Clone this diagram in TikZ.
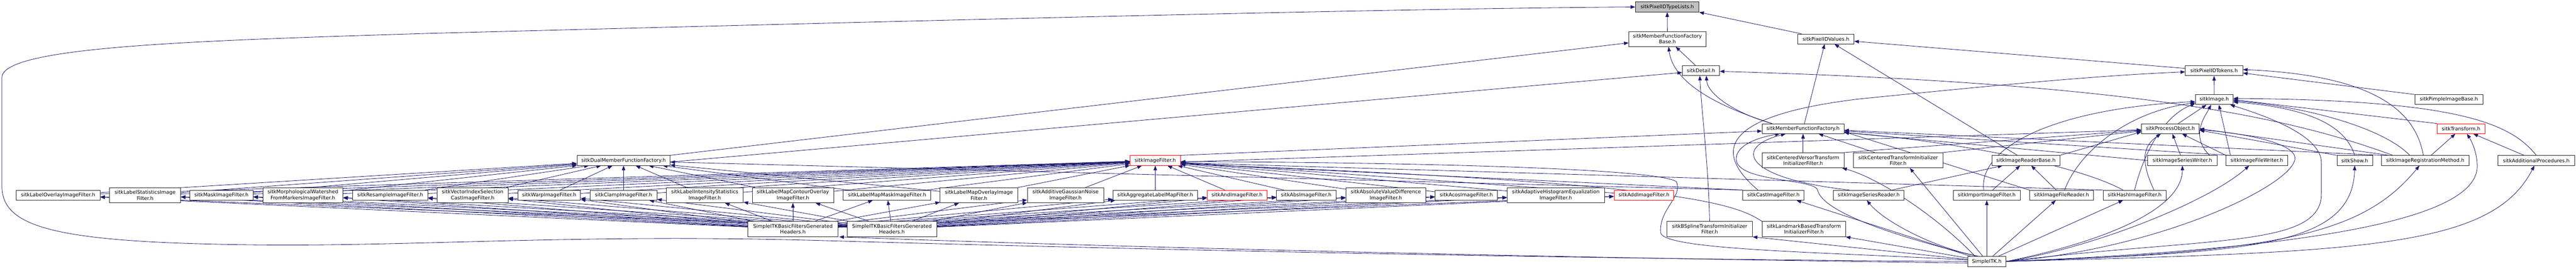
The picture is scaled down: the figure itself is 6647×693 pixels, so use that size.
\documentclass[tikz,border=0pt]{standalone}
\usepackage{fontspec}
\setmainfont{DejaVu Sans}
\usetikzlibrary{arrows.meta,backgrounds}
\definecolor{edgeblue}{HTML}{191970}
\definecolor{rootgrey}{HTML}{BFBFBF}
\begin{document}
\begin{tikzpicture}[x=1pt,y=-1pt,
  box/.style={draw=black!85, line width=1.1pt, fill=white, inner sep=0pt, align=center,
    font=\fontsize{12.9}{15}\selectfont},
  redbox/.style={box, draw=red},
  rootbox/.style={box, fill=rootgrey},
  sz/.style 2 args={minimum width=#1pt, minimum height=#2pt},
  edge/.style={draw=edgeblue, line width=1.1pt, -{Triangle[length=12pt,width=9pt]}},
]
\useasboundingbox (0,0) rectangle (6647,693);

% ---------- upper part ----------
\node[rootbox, sz={164}{26}] (typelists) at (4302,18) {sitkPixelIDTypeLists.h};
\node[box, sz={199}{39}] (mffbase) at (4302.5,100.5) {sitkMemberFunctionFactory\\Base.h};
\node[box, sz={145}{25.5}] (values) at (4711.5,100.5) {sitkPixelIDValues.h};
\node[box, sz={96}{25.5}] (detail) at (4389,182) {sitkDetail.h};
\node[box, sz={148}{25.5}] (tokens) at (5713,182.5) {sitkPixelIDTokens.h};
\node[box, sz={97}{25.5}] (image) at (5713.5,257) {sitkImage.h};
\node[box, sz={176}{25.5}] (pimple) at (6319,257) {sitkPimpleImageBase.h};
\node[box, sz={211}{25.5}] (mff) at (4652.5,332) {sitkMemberFunctionFactory.h};
\node[box, sz={149}{25.5}] (procobj) at (5600.5,332) {sitkProcessObject.h};
\node[redbox, sz={123}{25.5}] (transform) at (6350.5,332) {sitkTransform.h};

\node[box, sz={240}{25.5}] (dmff) at (1609,414) {sitkDualMemberFunctionFactory.h};
\node[redbox, sz={130}{25.5}] (ifilter) at (2981,414) {sitkImageFilter.h};
\node[box, sz={211}{39}] (cversor) at (4652.5,413.5) {sitkCenteredVersorTransform\\InitializerFilter.h};
\node[box, sz={230}{39}] (ctransform) at (4898,413.5) {sitkCenteredTransformInitializer\\Filter.h};
\node[box, sz={175}{25.5}] (rbase) at (5227.5,414) {sitkImageReaderBase.h};
\node[box, sz={179}{25.5}] (swriter) at (5631.5,414) {sitkImageSeriesWriter.h};
\node[box, sz={159}{25.5}] (fwriter) at (5823.5,414) {sitkImageFileWriter.h};
\node[box, sz={92}{25.5}] (show) at (6076,414) {sitkShow.h};
\node[box, sz={226}{25.5}] (regmethod) at (6258,414) {sitkImageRegistrationMethod.h};
\node[box, sz={197}{25.5}] (addproc) at (6544.5,414) {sitkAdditionalProcedures.h};

% ---------- filter row ----------
\node[box, sz={216}{25.5}] (f1) at (150,503.5) {sitkLabelOverlayImageFilter.h};
\node[box, sz={183}{39}] (f2) at (374.5,503.5) {sitkLabelStatisticsImage\\Filter.h};
\node[box, sz={163}{25.5}] (f3) at (571.5,503.5) {sitkMaskImageFilter.h};
\node[box, sz={207}{39}] (f4) at (781.5,503.5) {sitkMorphologicalWatershed\\FromMarkersImageFilter.h};
\node[box, sz={194}{25.5}] (f5) at (1007,503.5) {sitkResampleImageFilter.h};
\node[box, sz={183}{39}] (f6) at (1219.5,503.5) {sitkVectorIndexSelection\\CastImageFilter.h};
\node[box, sz={162}{25.5}] (f7) at (1417,503.5) {sitkWarpImageFilter.h};
\node[box, sz={172}{25.5}] (f8) at (1609,503.5) {sitkClampImageFilter.h};
\node[box, sz={199}{39}] (f9) at (1818.5,503.5) {sitkLabelIntensityStatistics\\ImageFilter.h};
\node[box, sz={210}{39}] (f10) at (2046,503.5) {sitkLabelMapContourOverlay\\ImageFilter.h};
\node[box, sz={226}{25.5}] (f11) at (2289,503.5) {sitkLabelMapMaskImageFilter.h};
\node[box, sz={200}{39}] (f12) at (2526,503.5) {sitkLabelMapOverlayImage\\Filter.h};
\node[box, sz={197}{39}] (f13) at (2749.5,503.5) {sitkAdditiveGaussianNoise\\ImageFilter.h};
\node[box, sz={218}{25.5}] (f14) at (2981,503.5) {sitkAggregateLabelMapFilter.h};
\node[redbox, sz={154}{25.5}] (f15) at (3192,503.5) {sitkAndImageFilter.h};
\node[box, sz={153}{25.5}] (f16) at (3370.5,503.5) {sitkAbsImageFilter.h};
\node[box, sz={206}{39}] (f17) at (3576,503.5) {sitkAbsoluteValueDifference\\ImageFilter.h};
\node[box, sz={161}{25.5}] (f18) at (3783.5,503.5) {sitkAcosImageFilter.h};
\node[box, sz={251}{39}] (f19) at (4014.5,503.5) {sitkAdaptiveHistogramEqualization\\ImageFilter.h};
\node[redbox, sz={154}{25.5}] (f20) at (4242,503.5) {sitkAddImageFilter.h};
\node[box, sz={158}{25.5}] (cast) at (4576,503.5) {sitkCastImageFilter.h};
\node[box, sz={182}{25.5}] (sreader) at (4822,503.5) {sitkImageSeriesReader.h};
\node[box, sz={173}{25.5}] (import) at (5126.5,503.5) {sitkImportImageFilter.h};
\node[box, sz={165}{25.5}] (freader) at (5319.5,503.5) {sitkImageFileReader.h};
\node[box, sz={162}{25.5}] (hash) at (5508,503.5) {sitkHashImageFilter.h};

% ---------- bottom ----------
\node[box, sz={232}{39}] (A) at (2046,591) {SimpleITKBasicFiltersGenerated\\Headers.h};
\node[box, sz={231}{39}] (B) at (2301.5,591) {SimpleITKBasicFiltersGenerated\\Headers.h};
\node[box, sz={221}{39}] (bspline) at (4411.5,591) {sitkBSplineTransformInitializer\\Filter.h};
\node[box, sz={215}{39}] (landmark) at (4654.5,591) {sitkLandmarkBasedTransform\\InitializerFilter.h};
\node[box, sz={99}{25.5}] (simpleitk) at (5126.5,674.5) {SimpleITK.h};

\begin{pgfonlayer}{background}
% top structure
\draw[edge] (mffbase) -- (typelists);
\draw[edge] ([xshift=10pt]values.north west) -- (typelists.south east);
\draw[edge] (detail) -- (mffbase);
\draw[edge] ([xshift=26pt]mff.north west) .. controls (4450,280) and (4318,220) .. ([xshift=3pt]mffbase.south);
\draw[edge] ([xshift=26pt]mff.north west) .. controls (4470,290) and (4405,240) .. ([xshift=14pt]detail.south);
\draw[edge] (mff) -- (values);
\draw[edge] (bspline.north) .. controls (4408,420) and (4390,280) .. ([xshift=-3pt]detail.south);
\draw[edge] (dmff.north east) -- ([yshift=-10pt]mffbase.west);
\draw[edge] ([yshift=-4pt]dmff.east) -- ([yshift=-5pt]detail.west);
\draw[edge] (tokens) -- (values);
\draw[edge] (rbase) -- (values);
\draw[edge] (image) -- (tokens);
\draw[edge] (pimple.north west) -- ([yshift=-6pt]tokens.east);
\draw[edge] ([xshift=-5pt]regmethod.north) .. controls (6235,300) and (6150,195) .. ([yshift=3pt]tokens.east);
\draw[edge] ([xshift=-40pt]cast.north) .. controls (4430,400) and (4420,300) .. (4800,255) .. controls (5100,225) and (5400,195) .. ([yshift=-3pt]tokens.west);

% image / process object level
\draw[edge] (procobj) -- (image);
\draw[edge] ([xshift=-20pt]swriter.north east) .. controls (5650,350) and (5690,300) .. ([xshift=-8pt]image.south);
\draw[edge] (swriter) -- (procobj);
\draw[edge] ([xshift=12pt]fwriter.north west) -- ([xshift=12pt]image.south);
\draw[edge] (fwriter.north west) -- ([xshift=30pt]procobj.south);
\draw[edge] (show.north) .. controls (6050,320) and (5950,278) .. ([yshift=-6pt]image.east);
\draw[edge] (show.north west) -- ([yshift=-4pt]procobj.east);
\draw[edge] ([xshift=-40pt]regmethod.north) .. controls (6150,330) and (5950,275) .. ([yshift=-3pt]image.east);
\draw[edge] ([xshift=20pt]regmethod.north west) -- (procobj.east);
\draw[edge] (regmethod) -- (transform);
\draw[edge] (transform.north west) -- (image.east);
\draw[edge] (addproc) -- (transform);
\draw[edge] (addproc.north) .. controls (6480,320) and (6350,258) .. ([yshift=3pt]image.east);
\draw[edge] ([xshift=30pt]regmethod.north west) .. controls (5900,300) and (5500,215) .. ([yshift=-2pt]detail.east);
\draw[edge] (regmethod.north west) -- ([yshift=-4pt]mff.east);

% image filter
\draw[edge] (ifilter.north east) -- ([yshift=-6pt]mff.west);
\draw[edge] ([yshift=-4pt]ifilter.east) -- ([yshift=-3pt]procobj.west);

% transform initializers
\draw[edge] (cversor) -- (mff);
\draw[edge] (ctransform) -- (mff);
\draw[edge] (cversor.north east) -- ([yshift=-4pt]procobj.west);
\draw[edge] (ctransform.north east) -- ([yshift=-6pt]procobj.west);
\draw[edge] (rbase.north east) -- ([yshift=-8pt]procobj.west);

% readers, writers, hash
\draw[edge] (sreader) -- (rbase);
\draw[edge] (import) -- (rbase);
\draw[edge] (freader) -- (rbase);
\draw[edge] ([xshift=-50pt]sreader.north) .. controls (4500,460) and (4470,380) .. ([xshift=-45pt]mff.south);
\draw[edge] ([xshift=-8pt]import.north) .. controls (5105,380) and (5300,280) .. ([yshift=-5pt]image.west);
\draw[edge] ([xshift=8pt]freader.north) .. controls (5360,400) and (5480,290) .. ([yshift=-8pt]image.west);
\draw[edge] (freader.north west) -- ([yshift=-8pt]mff.east);
\draw[edge] (hash.north) .. controls (5530,400) and (5580,300) .. ([yshift=-10pt]image.west);
\draw[edge] ([xshift=-30pt]hash.north) .. controls (5350,420) and (5000,360) .. ([yshift=-10pt]mff.east);
\draw[edge] ([xshift=50pt]hash.north) .. controls (5515,400) and (5540,370) .. ([xshift=-25pt]procobj.south);
\draw[edge] (hash.north west) -- ([yshift=-6pt]ifilter.east);
\draw[edge] (swriter.west) -- ([yshift=-10pt]mff.east);
\draw[edge] ([xshift=10pt]fwriter.north west) -- ([yshift=-6pt]mff.east);
\draw[edge] (cast.north west) -- ([yshift=-8pt]ifilter.east);
\draw[edge] (cast.north west) -- ([yshift=-4pt]dmff.east);
\draw[edge] (landmark.north west) .. controls (4470,520) and (4300,470) .. ([yshift=-9pt]ifilter.east);

% SimpleITK.h
\draw[edge] (simpleitk.west) .. controls (4000,668) and (2800,640) .. (2100,620)
  .. controls (1500,604) and (1100,634) .. (700,632)
  .. controls (150,628) and (5,590) .. (5,480) -- (5,200)
  .. controls (5,120) and (500,105) .. (1110,86)
  .. controls (2500,50) and (3600,22) .. (typelists.west);
\draw[edge] ([yshift=-4pt]simpleitk.west) .. controls (3900,664) and (2700,632) .. ([xshift=3pt]A.south east);
\draw[edge] ([yshift=4pt]simpleitk.west) .. controls (4700,650) and (4290,645) .. (4285,600)
  .. controls (4280,540) and (4345,505) .. (4325,468)
  .. controls (4260,430) and (3500,418) .. ([yshift=-3pt]ifilter.east);
\draw[edge] (simpleitk) -- (hash);
\draw[edge] (simpleitk) -- (freader);
\draw[edge] (simpleitk) -- (import);
\draw[edge] ([xshift=-20pt]simpleitk.north) .. controls (4990,640) and (4860,570) .. ([xshift=-5pt]sreader.south);
\draw[edge] (simpleitk) -- ([xshift=-20pt]cast.south east);
\draw[edge] ([xshift=-10pt]simpleitk.north) -- ([xshift=30pt]ctransform.south);
\draw[edge] ([xshift=-30pt]simpleitk.north) .. controls (5000,560) and (4850,460) .. ([xshift=-5pt]cversor.south east);
\draw[edge] (simpleitk) -- (landmark.south east);
\draw[edge] (simpleitk) -- (bspline.south east);
\draw[edge] ([xshift=-25pt]simpleitk.north) .. controls (4850,600) and (4700,540) .. (4690,490)
  .. controls (4680,460) and (4480,470) .. (4480,410)
  .. controls (4480,370) and (4550,352) .. ([xshift=-60pt]mff.south);
\draw[edge] (simpleitk.east) .. controls (5350,640) and (5630,560) .. (swriter.south);
\draw[edge] (simpleitk.east) .. controls (5400,640) and (5700,520) .. ([xshift=-20pt]fwriter.south);
\draw[edge] (simpleitk.east) .. controls (5600,640) and (5950,460) .. (5920,400)
  .. controls (5900,360) and (5750,340) .. ([yshift=-3pt]procobj.east);
\draw[edge] (simpleitk.east) .. controls (5700,610) and (5990,640) .. (5990,500) -- (5990,420)
  .. controls (5990,350) and (5850,300) .. ([xshift=-8pt]image.south east);
\draw[edge] (simpleitk.east) .. controls (5800,650) and (6070,640) .. (show.south);
\draw[edge] (simpleitk.east) .. controls (5900,650) and (6100,600) .. ([xshift=-15pt]regmethod.south);
\draw[edge] (simpleitk.east) .. controls (6000,640) and (6390,560) .. (6392,430)
  .. controls (6392,390) and (6375,360) .. ([xshift=15pt]transform.south);
\draw[edge] (simpleitk.east) .. controls (6100,650) and (6430,640) .. ([xshift=-5pt]addproc.south);

% generated filter headers
\foreach \i in {1,...,20} {
  \draw[edge] (A) -- (f\i);
  \draw[edge] (B) -- (f\i);
  \draw[edge] (f\i) -- (ifilter);
}
\foreach \i in {1,...,12} {
  \draw[edge] (f\i) -- (dmff);
}
\end{pgfonlayer}
\end{tikzpicture}
\end{document}
